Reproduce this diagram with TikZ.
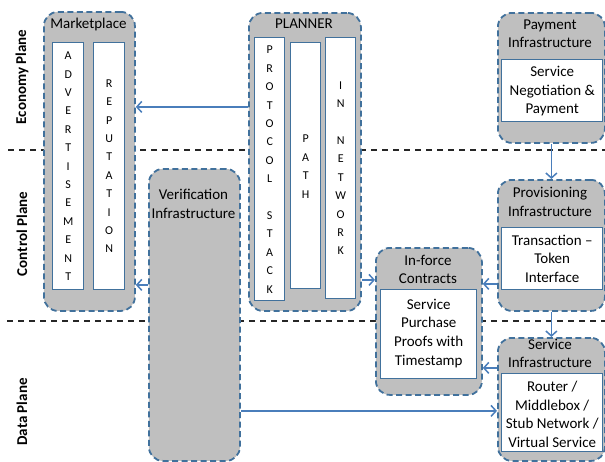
\documentclass[tikz,border=0pt]{standalone}
\usepackage{fontspec}
\setmainfont{Carlito}
\usetikzlibrary{arrows.meta,calc}
\definecolor{boxgray}{HTML}{BFBFBF}
\definecolor{dashblue}{HTML}{41719C}
\definecolor{arrblue}{HTML}{4A7EBB}
\begin{document}
\begin{tikzpicture}[x=1pt,y=-1pt,
  outer/.style={draw=dashblue,fill=boxgray,line width=1.8pt,dash pattern=on 6pt off 3.5pt,rounded corners=14pt,inner sep=0pt,anchor=north west},
  inner/.style={draw=dashblue,fill=white,line width=1.4pt,inner sep=0pt,anchor=north west},
  ttl/.style={font=\fontsize{15}{18.5}\selectfont,align=center,inner sep=0pt},
  body/.style={font=\fontsize{15}{18.6}\selectfont,align=center,inner sep=0pt},
  letters/.style={font=\fontsize{12}{18.4}\selectfont,align=center,inner sep=0pt},
  plane/.style={font=\fontsize{15}{18}\selectfont\bfseries,rotate=90,inner sep=0pt},
  planeline/.style={draw=black!85,line width=1.8pt,dash pattern=on 6pt off 5pt},
  arr/.style={draw=arrblue,line width=1.5pt,-{Straight Barb[length=5pt,width=11pt,line width=1.5pt]}}]
\useasboundingbox (0,0) rectangle (605,461);

% plane separator lines
\coordinate (l1a) at (8,150);
\coordinate (l1b) at (605,150);
\coordinate (l2a) at (7,321);
\coordinate (l2b) at (605,321);
\draw[planeline] (l1a) -- (l1b);
\draw[planeline] (l2a) -- (l2b);

% plane labels
\node[plane] (econ) at (22,77) {Economy Plane};
\node[plane] (ctrl) at (22,234) {Control Plane};
\node[plane] (data) at (22,412) {Data Plane};

% outer boxes
\node[outer,minimum width=91pt,minimum height=299pt] (market) at (43,11) {};
\node[outer,minimum width=91pt,minimum height=292pt] (verif) at (148,168) {};
\node[outer,minimum width=112pt,minimum height=298pt] (planner) at (248,12) {};
\node[outer,minimum width=107pt,minimum height=130pt] (payment) at (497,12) {};
\node[outer,minimum width=107pt,minimum height=131pt] (prov) at (497,179) {};
\node[outer,minimum width=106pt,minimum height=147pt] (inforce) at (375,247) {};
\node[outer,minimum width=107pt,minimum height=123pt] (service) at (497,337) {};

% titles
\node[ttl] (tmarket) at (88.5,24) {Marketplace};
\node[ttl] (tplanner) at (304,24) {PLANNER};
\node[ttl] (tpayment) at (550,33.5) {Payment\\Infrastructure};
\node[ttl] (tverif) at (193.5,204) {Verification\\Infrastructure};
\node[ttl] (tprov) at (550,202) {Provisioning\\Infrastructure};
\node[ttl] (tinforce) at (428,269.5) {In-force\\Contracts};
\node[ttl] (tservice) at (550,353.5) {Service\\Infrastructure};

% inner boxes
\node[inner,minimum width=31pt,minimum height=247pt] (adv) at (52,42) {};
\node[inner,minimum width=31pt,minimum height=247pt] (rep) at (93,42) {};
\node[inner,minimum width=30pt,minimum height=263pt] (proto) at (254,37) {};
\node[inner,minimum width=30pt,minimum height=246pt] (path) at (290,42) {};
\node[inner,minimum width=30pt,minimum height=261pt] (innet) at (325,37) {};
\node[inner,minimum width=101pt,minimum height=62pt] (negot) at (501,59) {};
\node[inner,minimum width=101pt,minimum height=62pt] (token) at (501,227) {};
\node[inner,minimum width=96pt,minimum height=89pt] (proofs) at (380,289) {};
\node[inner,minimum width=101pt,minimum height=78pt] (router) at (501,373) {};

% inner texts
\node[letters] at (adv.center) {A\\D\\V\\E\\R\\T\\I\\S\\E\\M\\E\\N\\T};
\node[letters] at (rep.center) {R\\E\\P\\U\\T\\A\\T\\I\\O\\N};
\node[letters] at ([yshift=-0.5pt]proto.center) {P\\R\\O\\T\\O\\C\\O\\L\\\mbox{}\\S\\T\\A\\C\\K};
\node[letters] at ([yshift=-1pt]path.center) {P\\A\\T\\H};
\node[letters] at (innet.center) {I\\N\\\mbox{}\\N\\E\\T\\W\\O\\R\\K};
\node[body] at ([yshift=-0.5pt]negot.center) {Service\\Negotiation \&\\Payment};
\node[body] at (token.center) {Transaction --\\Token\\Interface};
\node[body] at ([yshift=1pt]proofs.center) {Service\\Purchase\\Proofs with\\Timestamp};
\node[body] at ([yshift=-1.5pt]router.center) {Router /\\Middlebox /\\Stub Network /\\Virtual Service};

% connectors
\draw[arr] ([yshift=55pt]planner.west) -- ([yshift=55pt]planner.west -| market.east);
\draw[arr] ([yshift=30pt]verif.west) -- ([yshift=30pt]verif.west -| market.east);
\draw[arr] ([yshift=-118pt]planner.east) -- ([yshift=-118pt]planner.east -| inforce.west);
\draw[arr] ([yshift=-38.5pt]prov.west) -- ([yshift=-38.5pt]prov.west -| inforce.east);
\draw[arr] (payment.south) -- (prov.north);
\draw[arr] (prov.south) -- (service.north);
\draw[arr] ([yshift=31.5pt]service.west) -- ([yshift=31.5pt]service.west -| inforce.east);
\draw[arr] ([yshift=-96pt]verif.east) -- ([yshift=-96pt]verif.east -| service.west);
\end{tikzpicture}
\end{document}
